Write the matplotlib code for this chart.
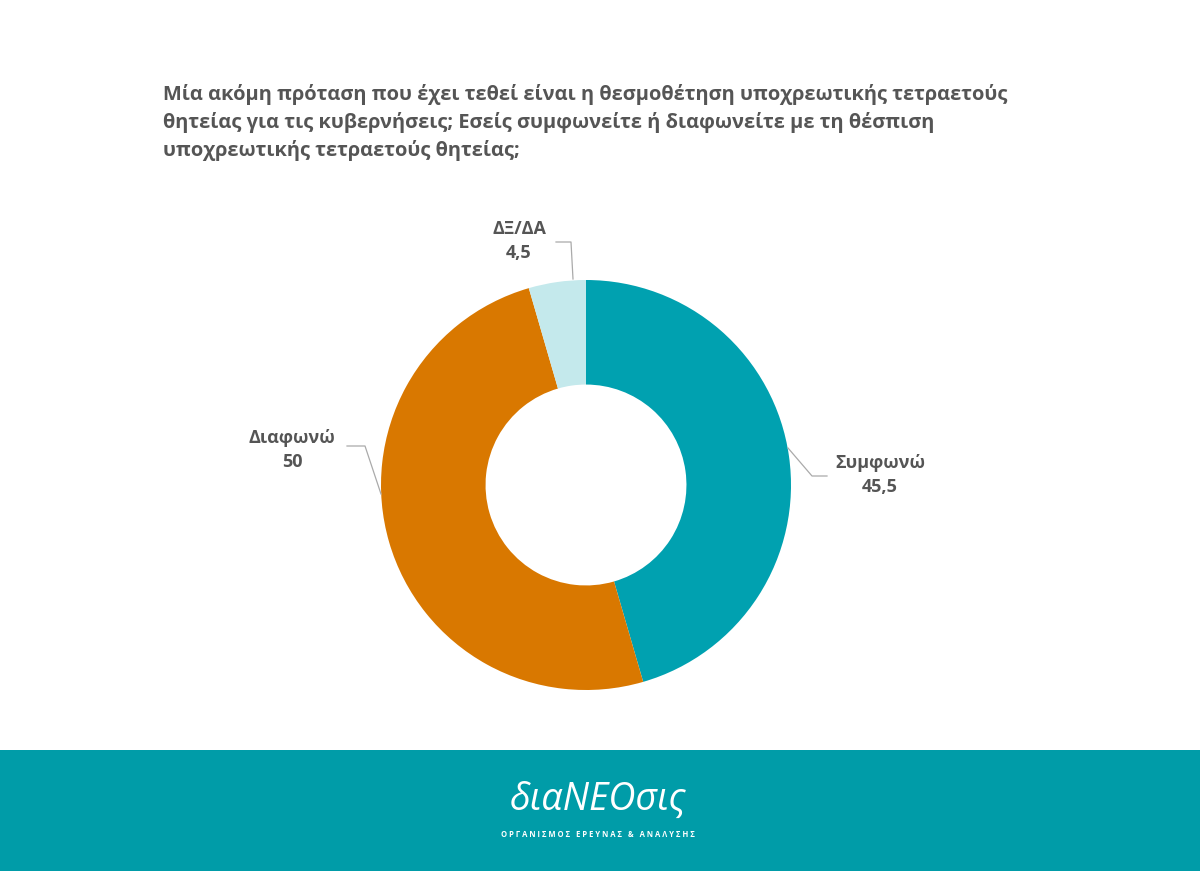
import matplotlib
matplotlib.use("Agg")
import matplotlib.pyplot as plt
from matplotlib.patches import Rectangle

categories = ["Συμφωνώ", "Διαφωνώ", "ΔΞ/ΔΑ"]
values = [45.5, 50, 4.5]
value_labels = ["45,5", "50", "4,5"]
colors = ["#00A1B0", "#D97800", "#C4E9EC"]
title = ("Μία ακόμη πρόταση που έχει τεθεί είναι η θεσμοθέτηση υποχρεωτικής τετραετούς\n"
         "θητείας για τις κυβερνήσεις; Εσείς συμφωνείτε ή διαφωνείτε με τη θέσπιση\n"
         "υποχρεωτικής τετραετούς θητείας;")

plt.rcParams['font.family'] = ['Open Sans', 'DejaVu Sans']
W, H = 1200, 871
fig = plt.figure(figsize=(W/100, H/100), dpi=100)
fig.patch.set_facecolor("white")

# footer band
fig.patches.append(Rectangle((0, 0), 1, 121/H, transform=fig.transFigure,
                             facecolor="#009CA8", edgecolor="none", zorder=0))
fig.text(598/W, 1-800/H, "διαNEOσις", color="white", fontsize=27, ha="center", va="center",
         style="italic")
fig.text(598/W, 1-834/H, "Ο Ρ Γ Α Ν Ι Σ Μ Ο Σ   Ε Ρ Ε Υ Ν Α Σ   &   Α Ν Α Λ Υ Σ Η Σ",
         color="white", fontsize=5.5, ha="center", va="center", fontweight="bold")

# title
fig.text(163/W, 1-84/H, title, color="#555555", fontsize=14.4, fontweight="bold",
         ha="left", va="top", linespacing=1.45)

# pie axes
cx, cy, R = 586, 485, 205
half = 300
ax = fig.add_axes([(cx-half)/W, (H-cy-half)/H, 2*half/W, 2*half/H])
ax.pie(values, colors=colors, startangle=90, counterclock=False, radius=1,
       wedgeprops=dict(width=0.51, edgecolor="none"))
ax.set_xlim(-half/R, half/R)
ax.set_ylim(-half/R, half/R)
ax.set_aspect("equal")
ax.axis("off")

def d(px, py):
    return ((px-cx)/R, (cy-py)/R)

label_pos = [(880, 475), (292, 450), (519, 241)]
leaders = [
    [(788, 448), (812, 476), (827, 476)],
    [(381, 494), (365, 446), (347, 446)],
    [(573, 279), (571, 242), (556, 242)],
]
for name, vl, (lx, ly), pts in zip(categories, value_labels, label_pos, leaders):
    x, y = d(lx, ly)
    ax.text(x, y, name + "\n" + vl, ha="center", va="center", color="#555555",
            fontsize=13, fontweight="bold", linespacing=1.4)
    xs = [d(*p)[0] for p in pts]
    ys = [d(*p)[1] for p in pts]
    ax.plot(xs, ys, color="#AAAAAA", lw=0.9)

fig.savefig("out.png", dpi=100)
